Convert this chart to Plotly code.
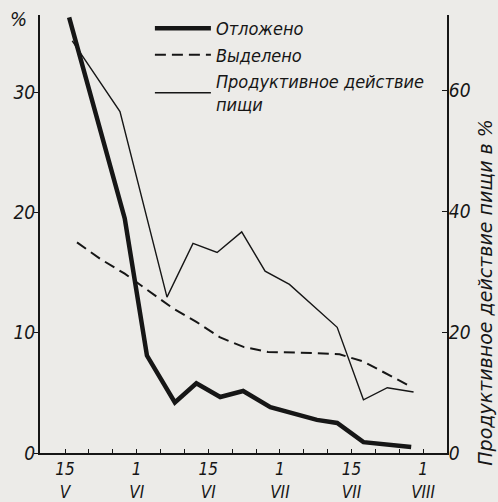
import plotly.graph_objects as go

# x axis is in pentad units: 0 = 15 V, 3 = 1 VI, 6 = 15 VI, 9 = 1 VII, 12 = 15 VII, 15 = 1 VIII
tick_vals = list(range(0, 16))
tick_labels = {0: "15<br>V", 3: "1<br>VI", 6: "15<br>VI", 9: "1<br>VII", 12: "15<br>VII", 15: "1<br>VIII"}
tick_text = [tick_labels.get(v, "") for v in tick_vals]

left_ticks = [0, 10, 20, 30]
right_ticks = [0, 20, 40, 60]

# Отложено (%, left axis)
deposited_x = [0.17, 2.5, 3.43, 4.6, 5.5, 6.5, 7.46, 8.6, 10.55, 11.4, 12.5, 14.5]
deposited_y = [36.2, 19.5, 8.1, 4.2, 5.8, 4.65, 5.15, 3.8, 2.75, 2.5, 0.9, 0.5]

# Выделено (%, left axis)
excreted_x = [0.5, 1.5, 2.5, 3.5, 4.5, 5.5, 6.5, 7.5, 8.5, 10.5, 11.5, 12.5, 14.5]
excreted_y = [17.5, 16.1, 14.9, 13.5, 12.05, 10.9, 9.6, 8.8, 8.4, 8.3, 8.2, 7.6, 5.5]

# Продуктивное действие пищи (%, right axis)
productive_x = [0.3, 2.3, 4.27, 5.36, 6.37, 7.4, 8.38, 9.4, 11.4, 12.5, 13.5, 14.6]
productive_y = [68.2, 56.5, 25.8, 34.7, 33.2, 36.6, 30.1, 27.9, 20.8, 8.8, 10.8, 10.1]

ink = "#161616"
bg = "#ecebe8"
FONT = "DejaVu Sans Condensed, DejaVu Sans, sans-serif"
FONT_WIDE = "DejaVu Sans, sans-serif"

fig = go.Figure()
fig.add_trace(go.Scatter(x=deposited_x, y=deposited_y, mode="lines", name="Отложено",
                         line=dict(color=ink, width=4.5)))
fig.add_trace(go.Scatter(x=excreted_x, y=excreted_y, mode="lines", name="Выделено",
                         line=dict(color=ink, width=2, dash="11px,6px")))
fig.add_trace(go.Scatter(x=productive_x, y=productive_y, mode="lines",
                         name="Продуктивное действие<br>пищи", yaxis="y2",
                         line=dict(color=ink, width=1.4)))

fig.update_layout(
    width=498, height=502,
    margin=dict(l=40, r=51, t=15, b=49, autoexpand=False),
    paper_bgcolor=bg, plot_bgcolor=bg,
    font=dict(family=FONT, size=16, color=ink, style="italic"),
    showlegend=True,
    legend=dict(xref="container", yref="container", x=0.301, y=0.980,
                xanchor="left", yanchor="top",
                bgcolor="rgba(0,0,0,0)", font=dict(size=18, style="italic"),
                itemwidth=56, tracegroupgap=0),
    xaxis=dict(range=[-1.05, 16.0], tickvals=tick_vals, ticktext=tick_text,
               ticks="inside", ticklen=4, tickcolor=ink, showline=True, linecolor=ink,
               linewidth=2, showgrid=False, zeroline=False, automargin=False,
               tickfont=dict(size=17, style="italic")),
    yaxis=dict(range=[0, 36.4], tickvals=left_ticks, ticks="outside", ticklen=4,
               tickcolor=ink, showline=True, linecolor=ink, linewidth=2, automargin=False,
               ticklabelstandoff=-5,
               showgrid=False, zeroline=False, tickfont=dict(size=19, style="italic")),
    yaxis2=dict(range=[0, 72.5], tickvals=right_ticks, overlaying="y", side="right",
                anchor="x", ticks="inside", ticklen=5, tickcolor=ink, showline=True,
                linecolor=ink, linewidth=2, showgrid=False, zeroline=False,
                automargin=False, ticklabelstandoff=-4,
                tickfont=dict(size=19, style="italic")),
    annotations=[
        dict(text="%", xref="paper", yref="paper", x=-0.054, y=0.991,
             xanchor="center", yanchor="middle",
             showarrow=False, font=dict(size=20, style="italic")),
        dict(text="Продуктивное действие пищи в %", xref="paper", yref="paper",
             x=1.093, y=0.368, xanchor="center", yanchor="middle",
             textangle=-90, showarrow=False,
             font=dict(family=FONT_WIDE, size=19, style="italic")),
    ],
)

fig.write_html("out.html", config={"displayModeBar": False},
               post_script="document.body.style.margin='0';")
